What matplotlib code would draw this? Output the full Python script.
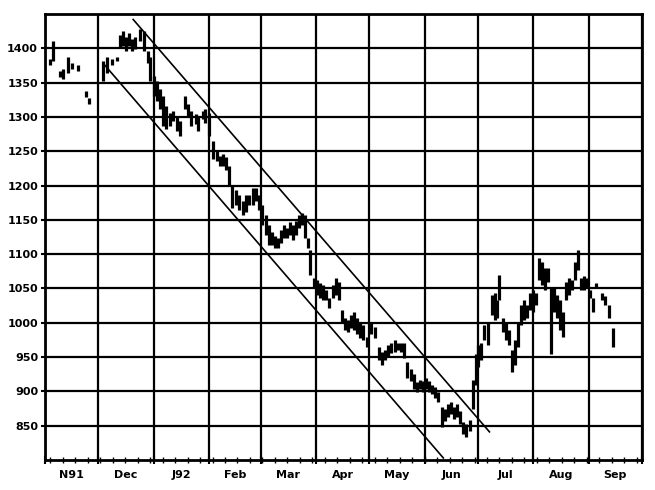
import matplotlib.pyplot as plt

# month boundaries, in days counted from 1 Nov 1991
month_starts = [0, 30, 61, 92, 121, 152, 182, 213, 243, 274, 305, 335]
month_labels = ['N91', 'Dec', 'J92', 'Feb', 'Mar', 'Apr', 'May', 'Jun', 'Jul', 'Aug', 'Sep']
y_ticks = [850, 900, 950, 1000, 1050, 1100, 1150, 1200, 1250, 1300, 1350, 1400]

# daily bars (day, high, low)
bar_day = [2.8, 4.5, 8.4, 10, 13, 15, 18.6, 23, 24.8,
           32.7, 35, 37.7, 40.5, 42, 44, 45.6, 47.3, 49, 50.7, 53.5, 55.7, 58, 59,
           61.4, 63, 64.8, 66.4, 68, 70.4, 72, 74.3, 76, 78.3, 80, 82.2, 84.5, 86, 88.4, 90, 91.8,
           94, 96.3, 98, 99.7, 101.4, 103, 104.7, 107, 108.7, 111, 112.6, 114.3, 116.6, 118.2, 120,
           122, 123.9, 125.6, 127.3, 129, 130.6, 132.3, 134, 135.7, 137.4, 139, 140.8, 142.5, 144.1,
           145.8, 147.5, 148.6, 150.9,
           152.6, 154.3, 156, 157.7, 159.3, 161.6, 163.3, 165, 166.7, 168.4, 170, 171.7, 173.4, 175,
           176.8, 178.5, 180.7,
           183, 185.2, 187.5, 189.2, 190.9, 192.6, 194.3, 196.5, 198.2, 199.9, 201.6, 203.3, 205.5,
           207.2, 209, 210.6, 212.3,
           214, 215.7, 217.3, 219, 220.7, 223, 224.7, 226.4, 228, 229.7, 231.4, 233.1, 234.8, 236.5,
           238.2, 239.9, 241.6, 243.2,
           244.9, 246.6, 248.3, 250.6, 252.3, 253.9, 255, 256.8, 258.4, 260.1, 261.8, 263.5, 265.2,
           266.9, 268.6, 270.3, 271.9, 273.6,
           275.3, 277, 278.7, 280.4, 282.1, 283.8, 285.5, 287.2, 288.9, 290.5, 292.2, 293.9, 295.6,
           297.3, 299, 300.7, 302.4, 304,
           305.7, 307.4, 309, 312.5, 314.2, 316.4, 318.7]
bar_high = [1384, 1410, 1367, 1370, 1388, 1378, 1375, 1338, 1328,
            1381, 1388, 1384, 1388, 1420, 1425, 1417, 1422, 1413, 1417, 1428, 1425, 1396, 1388,
            1359, 1352, 1341, 1330, 1316, 1306, 1309, 1301, 1294, 1330, 1319, 1309, 1304, 1301, 1309, 1312, 1306,
            1265, 1251, 1243, 1246, 1241, 1229, 1200, 1193, 1186, 1178, 1186, 1186, 1197, 1197, 1186,
            1171, 1157, 1142, 1132, 1126, 1123, 1135, 1142, 1138, 1147, 1142, 1149, 1157, 1160,
            1157, 1123, 1106, 1065,
            1062, 1058, 1055, 1048, 1036, 1055, 1065, 1059, 1019, 1007, 1004, 1012, 1015, 1007,
            1001, 997, 980,
            1001, 994, 964, 958, 961, 968, 971, 975, 971, 971, 971, 943, 932,
            925, 913, 917, 915,
            920, 915, 910, 906, 899, 877, 874, 881, 884, 877, 881, 871, 855, 852,
            859, 917, 954, 968,
            971, 997, 1001, 1041, 1043, 1033, 1070, 1007, 1001, 990, 961, 975, 1001,
            1026, 1033, 1026, 1043, 1048,
            1043, 1094, 1088, 1080, 1080, 1052, 1051, 1041, 1033, 1016, 1059, 1065, 1062,
            1088, 1106, 1065, 1068, 1065,
            1048, 1036, 1058, 1043, 1039, 1026, 993]
bar_low = [1375, 1381, 1358, 1355, 1364, 1370, 1367, 1329, 1319,
           1352, 1364, 1375, 1381, 1400, 1403, 1396, 1403, 1396, 1399, 1410, 1396, 1378, 1352,
           1330, 1323, 1312, 1287, 1283, 1287, 1294, 1280, 1272, 1312, 1301, 1287, 1290, 1280, 1297, 1291, 1272,
           1239, 1236, 1229, 1229, 1222, 1200, 1168, 1171, 1164, 1157, 1161, 1171, 1171, 1178, 1164,
           1142, 1128, 1113, 1113, 1109, 1109, 1116, 1123, 1123, 1128, 1120, 1128, 1138, 1142,
           1123, 1109, 1070, 1051,
           1041, 1036, 1033, 1033, 1022, 1036, 1041, 1033, 1001, 990, 986, 993, 990, 983,
           978, 975, 965,
           983, 978, 946, 939, 946, 951, 956, 958, 961, 958, 949, 920, 915,
           903, 899, 903, 899,
           903, 899, 896, 891, 884, 848, 857, 862, 867, 860, 862, 852, 838, 833,
           842, 874, 910, 935,
           946, 975, 968, 1012, 1004, 1007, 1033, 986, 975, 968, 928, 939, 964,
           997, 1004, 1007, 1019, 1016,
           1026, 1062, 1055, 1048, 1059, 955, 1016, 1007, 990, 980, 1033, 1041, 1048,
           1062, 1077, 1048, 1048, 1051,
           1036, 1015, 1051, 1033, 1026, 1007, 965]

# down-trend channel (start/end points)
upper_day = [49.5, 249.4]
upper_val = [1442, 841]
lower_day = [32.7, 223.5]
lower_val = [1378, 803]

fig = plt.figure(figsize=(6.55, 4.9), dpi=100)
ax = fig.add_axes([0.0687, 0.0612, 0.9115, 0.9102])

ax.vlines(bar_day, bar_low, bar_high, color='black', lw=2.3, zorder=3)
ax.plot(upper_day, upper_val, color='black', lw=1.2, zorder=4)
ax.plot(lower_day, lower_val, color='black', lw=1.2, zorder=4)

ax.set_xlim(0, 335)
ax.set_ylim(800, 1450)

# month boundaries as major ticks / grid, names centred in the month
mids = [(a + b) / 2 for a, b in zip(month_starts[:-1], month_starts[1:])]
ax.set_xticks(month_starts)
ax.set_xticklabels([])
ax.set_xticks(mids, minor=True)
ax.set_xticklabels(month_labels, minor=True, fontsize=8, fontweight='bold')
ax.tick_params(axis='x', which='major', length=6, width=1.5, direction='inout')
ax.tick_params(axis='x', which='minor', length=0, pad=7)

ax.set_yticks(y_ticks)
ax.set_yticklabels([str(v) for v in y_ticks], fontsize=8, fontweight='bold')
ax.tick_params(axis='y', length=3, width=1.5, pad=2)

ax.grid(True, which='major', color='black', lw=1.6, zorder=1)
ax.set_axisbelow(True)

# weekly ticks along the bottom
sec = ax.secondary_xaxis('bottom')
sec.set_xticks(list(range(3, 335, 7)))
sec.set_xticklabels([])
sec.tick_params(length=4, width=1, direction='inout')
sec.spines['bottom'].set_visible(False)

for s in ax.spines.values():
    s.set_linewidth(2)

fig.savefig('out.png', dpi=100)
